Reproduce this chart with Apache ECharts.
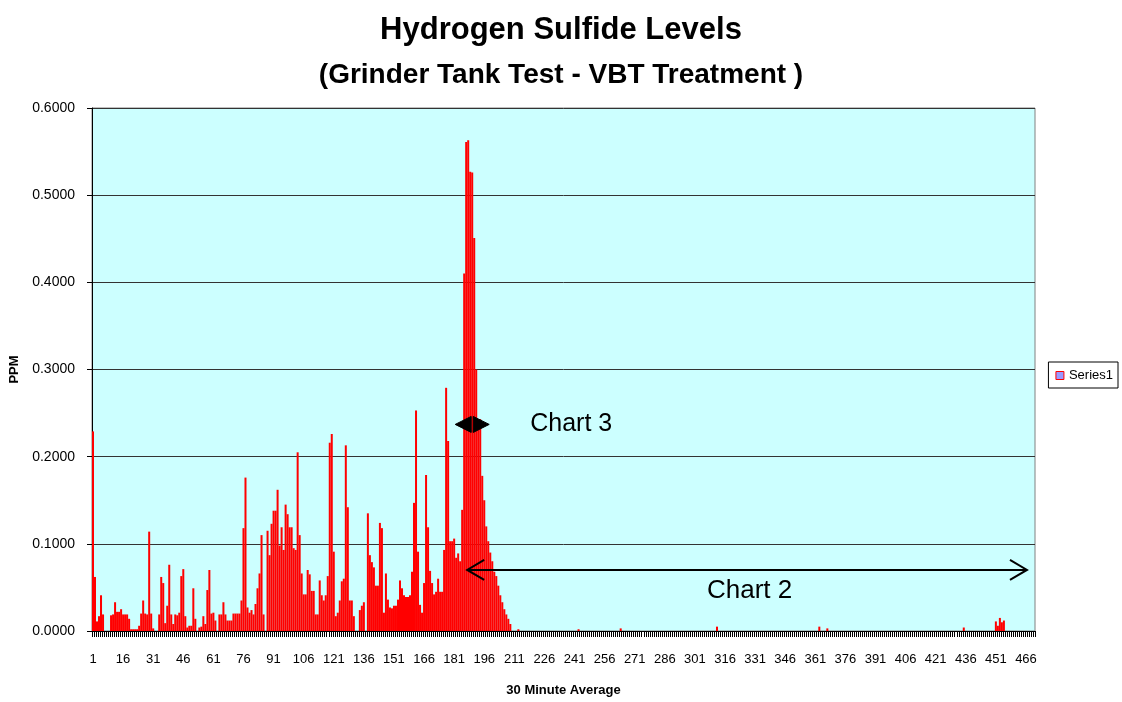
<!DOCTYPE html>
<html>
<head>
<meta charset="utf-8">
<title>Hydrogen Sulfide Levels</title>
<script src="https://cdn.jsdelivr.net/npm/echarts@6/dist/echarts.min.js"></script>
<style>
  html, body { margin: 0; padding: 0; background: #ffffff; }
  #mainChart { width: 1122px; height: 702px; }
</style>
</head>
<body>
<div id="mainChart"></div>
<script>
// --- data: 30 minute averages, PPM ---
const titleText = 'Hydrogen Sulfide Levels';
const subtitleText = '(Grinder Tank Test - VBT Treatment )';
const seriesName = 'Series1';
const yTicks = [0, 0.1, 0.2, 0.3, 0.4, 0.5, 0.6];

// readings 1..210 (the active part of the test)
const ppmStart = [
  0.229, 0.062, 0.011, 0.017, 0.041, 0.019, 0, 0, 0, 0.018,
  0.019, 0.033, 0.022, 0.022, 0.025, 0.019, 0.019, 0.019, 0.014, 0.002,
  0.002, 0.002, 0.002, 0.006, 0.020, 0.035, 0.020, 0.019, 0.114, 0.020,
  0.003, 0, 0, 0.019, 0.062, 0.055, 0.009, 0.029, 0.076, 0.019,
  0.008, 0.019, 0.018, 0.021, 0.063, 0.071, 0.017, 0.004, 0.006, 0.006,
  0.049, 0.014, 0, 0.004, 0.005, 0.017, 0.008, 0.047, 0.070, 0.020,
  0.021, 0.012, 0, 0.019, 0.019, 0.033, 0.019, 0.012, 0.012, 0.012,
  0.020, 0.020, 0.020, 0.020, 0.035, 0.118, 0.176, 0.027, 0.021, 0.024,
  0.019, 0.031, 0.049, 0.066, 0.110, 0.019, 0, 0.115, 0.087, 0.123,
  0.138, 0.138, 0.162, 0.098, 0.119, 0.093, 0.145, 0.134, 0.119, 0.119,
  0.095, 0.093, 0.205, 0.110, 0.066, 0.042, 0.042, 0.070, 0.065, 0.046,
  0.046, 0.019, 0.019, 0.058, 0.041, 0.035, 0.041, 0.063, 0.216, 0.226,
  0.091, 0.017, 0.021, 0.035, 0.057, 0.060, 0.213, 0.142, 0.035, 0.035,
  0.017, 0, 0, 0.024, 0.029, 0.033, 0, 0.135, 0.087, 0.079,
  0.073, 0.052, 0.052, 0.124, 0.118, 0.021, 0.066, 0.036, 0.027, 0.026,
  0.029, 0.029, 0.036, 0.058, 0.049, 0.041, 0.039, 0.039, 0.041, 0.068,
  0.147, 0.253, 0.091, 0.030, 0.021, 0.055, 0.179, 0.119, 0.069, 0.055,
  0.042, 0.045, 0.060, 0.045, 0.045, 0.093, 0.279, 0.218, 0.103, 0.103,
  0.106, 0.084, 0.089, 0.080, 0.139, 0.410, 0.561, 0.563, 0.527, 0.526,
  0.451, 0.300, 0.243, 0.243, 0.178, 0.150, 0.120, 0.103, 0.090, 0.080,
  0.068, 0.063, 0.052, 0.041, 0.033, 0.025, 0.019, 0.014, 0.008, 0
];

// readings 211..470 (after treatment, almost all zero)
const ppmEnd = [
  0, 0, 0.002, 0, 0, 0, 0, 0, 0, 0,
  0, 0, 0, 0, 0, 0, 0, 0, 0, 0,
  0, 0, 0, 0, 0, 0, 0, 0, 0, 0,
  0, 0, 0.002, 0, 0, 0, 0, 0, 0, 0,
  0, 0, 0, 0, 0, 0, 0, 0, 0, 0,
  0, 0, 0, 0.003, 0, 0, 0, 0, 0, 0,
  0, 0, 0, 0, 0, 0, 0, 0, 0, 0,
  0, 0, 0, 0, 0, 0, 0, 0, 0, 0,
  0, 0, 0, 0, 0, 0, 0, 0, 0, 0,
  0, 0, 0, 0, 0, 0, 0, 0, 0, 0,
  0, 0.005, 0, 0, 0, 0, 0, 0, 0, 0,
  0, 0, 0, 0, 0, 0, 0, 0, 0, 0,
  0, 0, 0, 0, 0, 0, 0, 0, 0, 0,
  0, 0, 0, 0, 0, 0, 0, 0, 0, 0,
  0, 0, 0, 0, 0, 0, 0, 0, 0, 0,
  0, 0, 0.005, 0, 0, 0, 0.003, 0, 0, 0,
  0, 0, 0, 0, 0, 0, 0, 0, 0, 0,
  0, 0, 0, 0, 0, 0, 0, 0, 0, 0,
  0, 0, 0, 0, 0, 0, 0, 0, 0, 0,
  0, 0, 0, 0, 0, 0, 0, 0, 0, 0,
  0, 0, 0, 0, 0, 0, 0, 0, 0, 0,
  0, 0, 0, 0, 0, 0, 0, 0, 0, 0,
  0, 0, 0, 0, 0.004, 0, 0, 0, 0, 0,
  0, 0, 0, 0, 0, 0, 0, 0, 0, 0,
  0.011, 0.006, 0.015, 0.010, 0.012, 0, 0, 0, 0, 0,
  0, 0, 0, 0, 0, 0, 0, 0, 0, 0
];

const ppmValues = ppmStart.concat(ppmEnd);

// x categories are just the reading numbers 1..470
const categories = ppmValues.map((v, i) => String(i + 1));

// annotations (category number, ppm level)
const chart3Arrow = { cat: 190, value: 0.237 };
const chart2Arrow = { from: 187, to: 466, value: 0.07 };
const chart2Label = { cat: 307, value: 0.048 };

const FONT = 'Liberation Sans, Arial, sans-serif';

function drawChart() {
    const chartDom = document.getElementById('mainChart');
    const myChart = echarts.init(chartDom);

    const option = {
        animation: false,
        backgroundColor: '#ffffff',
        title: [
            {
                text: titleText,
                left: 'center',
                top: 10,
                textStyle: { fontFamily: FONT, fontSize: 31, fontWeight: 'bold', color: '#000' }
            },
            {
                text: subtitleText,
                left: 'center',
                top: 56,
                textStyle: { fontFamily: FONT, fontSize: 28, fontWeight: 'bold', color: '#000' }
            }
        ],
        legend: {
            orient: 'vertical',
            right: 4,
            top: 362,
            padding: [7, 5, 6, 7],
            borderColor: '#000',
            borderWidth: 1,
            backgroundColor: '#fff',
            itemWidth: 8,
            itemHeight: 8,
            textStyle: { fontFamily: FONT, fontSize: 13, color: '#000' },
            data: [{
                name: seriesName,
                icon: 'rect',
                itemStyle: { color: '#9999FF', borderColor: '#FF0000', borderWidth: 1 }
            }]
        },
        grid: {
            left: 92,
            right: 87,
            top: 108,
            bottom: 70,
            show: true,
            backgroundColor: '#CCFFFF',
            borderColor: '#808080',
            borderWidth: 1
        },
        xAxis: {
            type: 'category',
            data: categories,
            name: '30 Minute Average',
            nameLocation: 'middle',
            nameGap: 53,
            nameTextStyle: { fontFamily: FONT, fontSize: 13, fontWeight: 'bold', color: '#000' },
            axisLine: { lineStyle: { color: '#000', width: 1 } },
            axisTick: { show: true, interval: 0, length: 6, lineStyle: { color: '#000' } },
            axisLabel: {
                interval: 14,
                margin: 22,
                fontFamily: FONT,
                fontSize: 13,
                color: '#000'
            },
            splitLine: { show: false }
        },
        yAxis: {
            type: 'value',
            min: yTicks[0],
            max: yTicks[yTicks.length - 1],
            interval: 0.1,
            name: 'PPM',
            nameLocation: 'middle',
            nameGap: 62,
            nameTextStyle: { fontFamily: FONT, fontSize: 13, fontWeight: 'bold', color: '#000' },
            axisLine: { show: true, lineStyle: { color: '#000', width: 1 } },
            axisTick: { show: true, length: 5, lineStyle: { color: '#000' } },
            axisLabel: {
                margin: 17,
                fontFamily: FONT,
                fontSize: 14,
                color: '#000',
                formatter: v => v.toFixed(4)
            },
            splitLine: { show: true, lineStyle: { color: '#333', width: 1 } }
        },
        series: [
            {
                name: seriesName,
                type: 'bar',
                data: ppmValues,
                barCategoryGap: '0%',
                itemStyle: { color: '#FF0000' }
            }
        ]
    };

    myChart.setOption(option);

    // --- annotation arrows and labels, placed through the axes ---
    const toPx = (cat, v) => myChart.convertToPixel({ xAxisIndex: 0, yAxisIndex: 0 }, [String(cat), v]);

    const c3 = toPx(chart3Arrow.cat, chart3Arrow.value);
    const a2 = toPx(chart2Arrow.from, chart2Arrow.value);
    const b2 = toPx(chart2Arrow.to, chart2Arrow.value);
    const l2 = toPx(chart2Label.cat, chart2Label.value);

    const black = { fill: '#000', stroke: '#000', lineWidth: 1 };
    const line2 = { stroke: '#000', lineWidth: 2, fill: null };

    myChart.setOption({
        graphic: [
            // Chart 3: small filled double arrow
            { type: 'polygon', z: 100, shape: { points: [[c3[0] - 17, c3[1]], [c3[0] - 1, c3[1] - 8], [c3[0] - 1, c3[1] + 8]] }, style: black },
            { type: 'polygon', z: 100, shape: { points: [[c3[0] + 17, c3[1]], [c3[0] + 1, c3[1] - 8], [c3[0] + 1, c3[1] + 8]] }, style: black },
            {
                type: 'text', z: 100, left: c3[0] + 58, top: c3[1] - 13,
                style: { text: 'Chart 3', fontFamily: FONT, fontSize: 25, fill: '#000' }
            },
            // Chart 2: long double arrow with open heads
            { type: 'line', z: 100, shape: { x1: a2[0] + 1, y1: a2[1], x2: b2[0] + 1, y2: b2[1] }, style: line2 },
            { type: 'polyline', z: 100, shape: { points: [[a2[0] + 18, a2[1] - 10], [a2[0] + 1, a2[1]], [a2[0] + 18, a2[1] + 10]] }, style: line2 },
            { type: 'polyline', z: 100, shape: { points: [[b2[0] - 16, b2[1] - 10], [b2[0] + 1, b2[1]], [b2[0] - 16, b2[1] + 10]] }, style: line2 },
            {
                type: 'text', z: 100, left: l2[0], top: l2[1] - 11,
                style: { text: 'Chart 2', fontFamily: FONT, fontSize: 26, fill: '#000' }
            }
        ]
    });
}

window.onload = function () {
    drawChart();
};
</script>
</body>
</html>
